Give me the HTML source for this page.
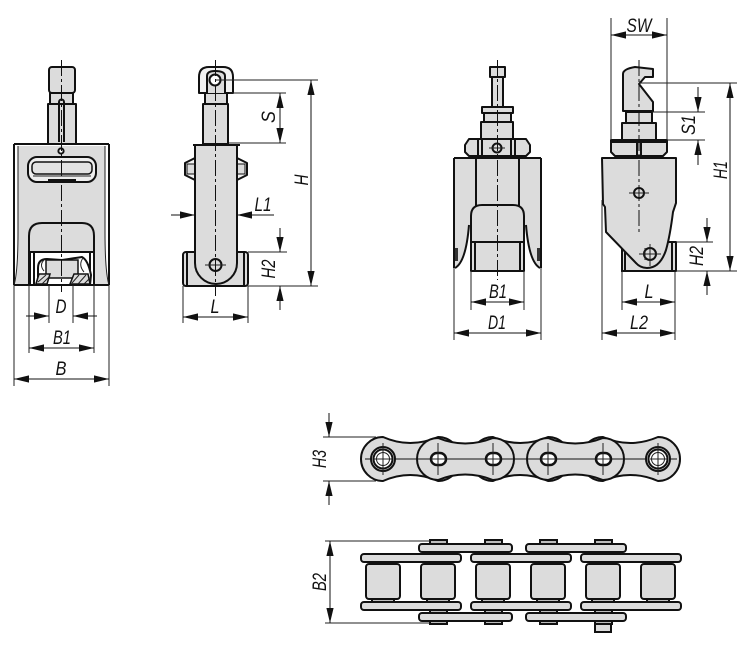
<!DOCTYPE html>
<html><head><meta charset="utf-8"><style>
html,body{margin:0;padding:0;background:#fff;width:750px;height:646px;overflow:hidden}
svg{display:block}
text{font-family:"Liberation Sans",sans-serif;font-style:italic;font-size:19px;fill:#111;text-anchor:middle}
.o{stroke:#111;stroke-width:2;fill:#dcdcdc;stroke-linejoin:round}
.w{stroke:#111;stroke-width:2;fill:#fff;stroke-linejoin:round}
.n{stroke:#111;stroke-width:2;fill:none}
.t{stroke:#222;stroke-width:1;fill:none}
.c{stroke:#111;stroke-width:1;fill:none;stroke-dasharray:16 3 3 3}
.d{stroke:#111;stroke-width:1;fill:none;marker-end:url(#a)}
.b{stroke:#111;stroke-width:1;fill:none;marker-start:url(#a2);marker-end:url(#a)}
</style></head><body>
<svg width="750" height="646" viewBox="0 0 750 646" xmlns="http://www.w3.org/2000/svg">
<defs>
<marker id="a" markerUnits="userSpaceOnUse" markerWidth="16" markerHeight="8" refX="15" refY="4" orient="auto"><path d="M0 .4L15 4L0 7.600Z" fill="#111"/></marker>
<marker id="a2" markerUnits="userSpaceOnUse" markerWidth="16" markerHeight="8" refX="0" refY="4" orient="auto"><path d="M15 .4L0 4L15 7.600Z" fill="#111"/></marker>
</defs>

<!-- FIG 1 -->
<rect class="o" x="49" y="67" width="26" height="26" rx="3"/>
<rect class="o" x="50" y="93" width="23" height="11"/>
<rect class="o" x="48" y="104" width="28" height="40"/>
<path class="n" d="M59 142V102a2.500 2.500 0 0 1 5 0V142"/>
<path d="M18 146H105V232Q104 272 109 285H14Q19 272 18 232Z" fill="#dcdcdc"/>
<path class="n" d="M14 144H109" stroke-width="2.500"/>
<path class="n" d="M14 144V285M109 144V285"/>
<path class="t" d="M18 146V232Q18 272 14 285M105 146V232Q105 272 109 285"/>
<circle class="w" cx="61" cy="151" r="2.600"/>
<rect class="o" x="28" y="157" width="68" height="25" rx="9" style="fill:#eee"/>
<rect x="32" y="162" width="60" height="12" rx="4" fill="#e2e2e2" stroke="#111" stroke-width="1.500"/>
<path class="t" d="M33 176H91"/>
<path class="n" d="M48 180H76"/>
<path class="o" d="M29 285V236Q29 223 42 223H82Q94 223 94 236V285Z"/>
<path class="w" d="M30 252H94V285H30Z"/>
<path class="n" d="M34 252V285M90 252V285"/>
<path class="o" d="M38 278V268Q38 259 47 259L62 260Q75 258 82 257Q88 260 91 275L90 285H36Z" style="fill:#fff"/>
<rect x="46" y="260" width="32" height="18" fill="#dcdcdc" stroke="#111" stroke-width="1.500"/>
<path class="t" d="M44 260Q39 265 44 271M83 258Q78 265 84 272"/>
<path d="M39 274H50L47 284H36ZM74 274H88L90 284H70Z" fill="#dcdcdc" stroke="#111" stroke-width="1.500"/>
<path class="t" d="M38 282L46 275M42 284L50 276M72 283L79 275M78 284L86 275M84 284L89 279"/>
<path class="n" d="M14 285H109" stroke-width="2.500"/>
<line class="c" x1="61.500" y1="60" x2="61.500" y2="292"/>
<path class="t" d="M49 285V323M73 285V323M29 285V353M94 285V353M14 285V386M109 285V386"/>
<line class="d" x1="26" y1="316" x2="49" y2="316"/><line class="d" x1="97" y1="316" x2="73" y2="316"/>
<text x="61" y="313" textLength="11" lengthAdjust="spacingAndGlyphs">D</text>
<line class="b" x1="29" y1="348" x2="94" y2="348"/><text x="62" y="344" textLength="18" lengthAdjust="spacingAndGlyphs">B1</text>
<line class="b" x1="14" y1="379" x2="109" y2="379"/><text x="61" y="375" textLength="11" lengthAdjust="spacingAndGlyphs">B</text>

<!-- FIG 2 -->
<path class="o" d="M195 158L185 163V175L195 180ZM237 158L247 163V175L237 180Z" style="fill:#f2f2f2"/>
<rect x="187" y="164" width="8" height="10" fill="#dcdcdc" stroke="#111" stroke-width="1"/>
<rect x="237" y="164" width="8" height="10" fill="#dcdcdc" stroke="#111" stroke-width="1"/>
<rect class="o" x="183" y="252" width="65" height="34" rx="3"/>
<path class="n" d="M187 252V286M244 252V286"/>
<rect class="o" x="203" y="104" width="25" height="40"/>
<rect class="o" x="205" y="93" width="22" height="11"/>
<path class="o" d="M199 93V77Q199 67 209 67H223Q233 67 233 77V93Z" style="fill:#f2f2f2"/>
<path class="n" d="M207 93V76Q207 71 215 71Q225 71 225 76V93" style="fill:#dcdcdc"/>
<circle class="w" cx="215" cy="80" r="5.500"/>
<path class="o" d="M195 145H237V263A21 21 0 0 1 195 263Z"/>
<path class="n" d="M193 145H240" stroke-width="2.500"/>
<circle class="n" cx="215.500" cy="265" r="6"/><path class="t" d="M205 265H226"/>
<line class="c" x1="215.500" y1="60" x2="215.500" y2="296"/>
<path class="t" d="M215 80H318M229 93H286M229 143H286M248 252H287M248 286H318M183 286V323M248 286V323"/>
<line class="b" x1="311" y1="80" x2="311" y2="286"/>
<line class="b" x1="280" y1="93" x2="280" y2="143"/>
<line class="d" x1="171" y1="215" x2="195" y2="215"/><line class="d" x1="274" y1="215" x2="237" y2="215"/>
<line class="d" x1="280" y1="228" x2="280" y2="252"/><line class="d" x1="280" y1="310" x2="280" y2="286"/>
<line class="b" x1="183" y1="317" x2="248" y2="317"/>
<text x="215" y="313" textLength="9" lengthAdjust="spacingAndGlyphs">L</text>
<text x="263" y="211" textLength="17" lengthAdjust="spacingAndGlyphs">L1</text>
<text transform="translate(275,117) rotate(-90)" textLength="12" lengthAdjust="spacingAndGlyphs">S</text>
<text transform="translate(308,180) rotate(-90)" textLength="11" lengthAdjust="spacingAndGlyphs">H</text>
<text transform="translate(275,269) rotate(-90)" textLength="19" lengthAdjust="spacingAndGlyphs">H2</text>

<!-- FIG 3 -->
<rect class="o" x="490" y="67" width="15" height="10"/>
<rect class="o" x="492" y="77" width="11" height="30"/>
<rect class="o" x="482" y="107" width="31" height="6"/>
<rect class="o" x="484" y="113" width="27" height="9"/>
<rect class="o" x="481" y="122" width="32" height="18"/>
<path class="o" d="M469 139H526L530 145V152L526 156H469L465 152V145Z"/>
<path class="n" d="M478 139V156M482 139V156M511 139V156M515 139V156"/>
<circle class="n" cx="497" cy="148" r="4.500"/><path class="t" d="M489 148H505"/>
<path d="M454 158H541V268Q530 265 527 235L525 225V271H470V225L468 235Q465 265 454 268Z" fill="#dcdcdc"/>
<path class="n" d="M454 158H541" stroke-width="2.500"/>
<path class="n" d="M454 158V268M541 158V268M476 158V206M519 158V206"/>
<path class="n" d="M469 225Q466 262 455 268M526 225Q529 262 540 268"/>
<rect x="455" y="248" width="3" height="13" fill="#333"/><rect x="537" y="248" width="3" height="13" fill="#333"/>
<path class="o" d="M471 271V216Q471 205 482 205H513Q524 205 524 216V271Z"/>
<path class="n" d="M471 242H524M475 242V271M520 242V271"/>
<path class="n" d="M471 271H524" stroke-width="2.500"/>
<line class="c" x1="497.500" y1="60" x2="497.500" y2="280"/>
<path class="t" d="M471 271V310M524 271V310M454 268V340M541 268V340"/>
<line class="b" x1="471" y1="302" x2="524" y2="302"/><text x="498" y="298" textLength="18" lengthAdjust="spacingAndGlyphs">B1</text>
<line class="b" x1="454" y1="333" x2="541" y2="333"/><text x="497" y="329" textLength="18" lengthAdjust="spacingAndGlyphs">D1</text>

<!-- FIG 4 -->
<rect class="o" x="622" y="242" width="54" height="29"/>
<path class="n" d="M625 242V271M672 242V271M621 271H676"/>
<path class="o" d="M623 111V74Q623 69 635 67L653 69V77H645L639 84L653 102V111Z"/>
<rect class="o" x="626" y="112" width="26" height="11"/>
<rect class="o" x="622" y="123" width="34" height="17"/>
<path class="o" d="M611 140H667V152L663 156H615L611 152Z"/>
<path class="n" d="M637 140V156M641 140V156M611 142H667"/>
<path class="o" d="M602 158H676V203L673 212Q670 236 666 250Q660 268 647 268Q640 268 635 262L606 232L605 207L603 204Z"/>
<path class="n" d="M602 158H676" stroke-width="2.500"/>
<circle class="n" cx="639" cy="193" r="5"/><path class="t" d="M629 193H649"/>
<circle class="n" cx="650" cy="254" r="6"/><path class="t" d="M639 254H661M650 244V266M645 248V260"/>
<line class="c" x1="639" y1="60" x2="639" y2="232"/>
<path class="t" d="M611 18V140M667 18V140M639 83H737M652 112H705M667 140H705M676 242H713M676 271H737M622 271V310M675 271V310M602 200V340M675 310V340"/>
<line class="b" x1="611" y1="35" x2="667" y2="35"/>
<line class="b" x1="730" y1="83" x2="730" y2="271"/>
<line class="d" x1="698" y1="87" x2="698" y2="112"/><line class="d" x1="698" y1="165" x2="698" y2="140"/>
<line class="d" x1="707" y1="218" x2="707" y2="242"/><line class="d" x1="707" y1="295" x2="707" y2="271"/>
<line class="b" x1="622" y1="302" x2="675" y2="302"/>
<line class="b" x1="602" y1="333" x2="675" y2="333"/>
<text x="639" y="32" textLength="25" lengthAdjust="spacingAndGlyphs">SW</text><text x="649" y="298" textLength="9" lengthAdjust="spacingAndGlyphs">L</text><text x="639" y="329" textLength="18" lengthAdjust="spacingAndGlyphs">L2</text>
<text transform="translate(695,125) rotate(-90)" textLength="20" lengthAdjust="spacingAndGlyphs">S1</text>
<text transform="translate(727,170) rotate(-90)" textLength="18" lengthAdjust="spacingAndGlyphs">H1</text>
<text transform="translate(703,256) rotate(-90)" textLength="20" lengthAdjust="spacingAndGlyphs">H2</text>

<!-- CHAIN TOP -->
<path class="o" d="M383 437Q410 449 438 437A22 22 0 0 1 438 481Q410 469 383 481A22 22 0 0 1 383 437Z"/>
<path class="o" d="M493 437Q520 449 548 437A22 22 0 0 1 548 481Q520 469 493 481A22 22 0 0 1 493 437Z"/>
<path class="o" d="M603 437Q630 449 658 437A22 22 0 0 1 658 481Q630 469 603 481A22 22 0 0 1 603 437Z"/>
<path class="o" d="M438 438Q465 449 493 438A21 21 0 0 1 493 480Q465 469 438 480A21 21 0 0 1 438 438Z"/>
<path class="o" d="M548 438Q575 449 603 438A21 21 0 0 1 603 480Q575 469 548 480A21 21 0 0 1 548 438Z"/>
<line x1="365" y1="459" x2="677" y2="459" stroke="#111" stroke-width="1"/>
<circle class="w" cx="383" cy="459" r="12" style="fill:#dcdcdc"/><circle class="w" cx="383" cy="459" r="9.500"/><circle class="t" cx="383" cy="459" r="6.500"/>
<circle class="w" cx="658" cy="459" r="12" style="fill:#dcdcdc"/><circle class="w" cx="658" cy="459" r="9.500"/><circle class="t" cx="658" cy="459" r="6.500"/>
<g stroke="#111" stroke-width="2.500" fill="#fff">
<rect x="431" y="453" width="15" height="12" rx="6"/><rect x="486" y="453" width="15" height="12" rx="6"/><rect x="541" y="453" width="15" height="12" rx="6"/><rect x="596" y="453" width="15" height="12" rx="6"/>
</g>
<path class="t" d="M431 459H446M486 459H501M541 459H556M596 459H611"/>
<path class="t" d="M383 443V475M438 443V475M493 443V475M548 443V475M603 443V475M658 443V475M374 459H392M650 459H667"/>
<path class="t" d="M323 437H376M323 481H376"/>
<line class="d" x1="329" y1="413" x2="329" y2="437"/><line class="d" x1="329" y1="505" x2="329" y2="481"/>
<text transform="translate(326,459) rotate(-90)" textLength="18" lengthAdjust="spacingAndGlyphs">H3</text>

<!-- CHAIN BOTTOM -->
<g stroke="#111" stroke-width="2" fill="#bdbdbd">
<rect x="430" y="540" width="17" height="5"/><rect x="485" y="540" width="17" height="5"/><rect x="540" y="540" width="17" height="5"/><rect x="595" y="540" width="17" height="5"/>
<rect x="430" y="551" width="17" height="4"/><rect x="485" y="551" width="17" height="4"/><rect x="540" y="551" width="17" height="4"/><rect x="595" y="551" width="17" height="4"/>
<rect x="430" y="609" width="17" height="5"/><rect x="485" y="609" width="17" height="5"/><rect x="540" y="609" width="17" height="5"/><rect x="595" y="609" width="17" height="5"/>
<rect x="430" y="620" width="17" height="4"/><rect x="485" y="620" width="17" height="4"/><rect x="540" y="620" width="17" height="4"/><rect x="595" y="620" width="17" height="4"/>
<rect x="595" y="624" width="16" height="8" fill="#dcdcdc"/>
<rect x="372" y="561" width="22" height="4"/><rect x="427" y="561" width="22" height="4"/><rect x="482" y="561" width="22" height="4"/><rect x="537" y="561" width="22" height="4"/><rect x="592" y="561" width="22" height="4"/><rect x="647" y="561" width="22" height="4"/>
<rect x="372" y="598" width="22" height="4"/><rect x="427" y="598" width="22" height="4"/><rect x="482" y="598" width="22" height="4"/><rect x="537" y="598" width="22" height="4"/><rect x="592" y="598" width="22" height="4"/><rect x="647" y="598" width="22" height="4"/>
</g>
<rect class="o" x="366" y="564" width="34" height="35" rx="3"/><rect class="o" x="421" y="564" width="34" height="35" rx="3"/><rect class="o" x="476" y="564" width="34" height="35" rx="3"/><rect class="o" x="531" y="564" width="34" height="35" rx="3"/><rect class="o" x="586" y="564" width="34" height="35" rx="3"/><rect class="o" x="641" y="564" width="34" height="35" rx="3"/>
<rect class="o" x="361" y="554" width="100" height="8" rx="3"/><rect class="o" x="471" y="554" width="100" height="8" rx="3"/><rect class="o" x="581" y="554" width="100" height="8" rx="3"/>
<rect class="o" x="361" y="602" width="100" height="8" rx="3"/><rect class="o" x="471" y="602" width="100" height="8" rx="3"/><rect class="o" x="581" y="602" width="100" height="8" rx="3"/>
<rect class="o" x="419" y="544" width="93" height="8" rx="3"/><rect class="o" x="526" y="544" width="100" height="8" rx="3"/>
<rect class="o" x="419" y="613" width="93" height="8" rx="3"/><rect class="o" x="526" y="613" width="100" height="8" rx="3"/>
<path class="t" d="M325 541H430M325 623H430"/>
<line class="b" x1="330" y1="541" x2="330" y2="623"/>
<text transform="translate(326,582) rotate(-90)" textLength="18" lengthAdjust="spacingAndGlyphs">B2</text>
</svg>
</body></html>
